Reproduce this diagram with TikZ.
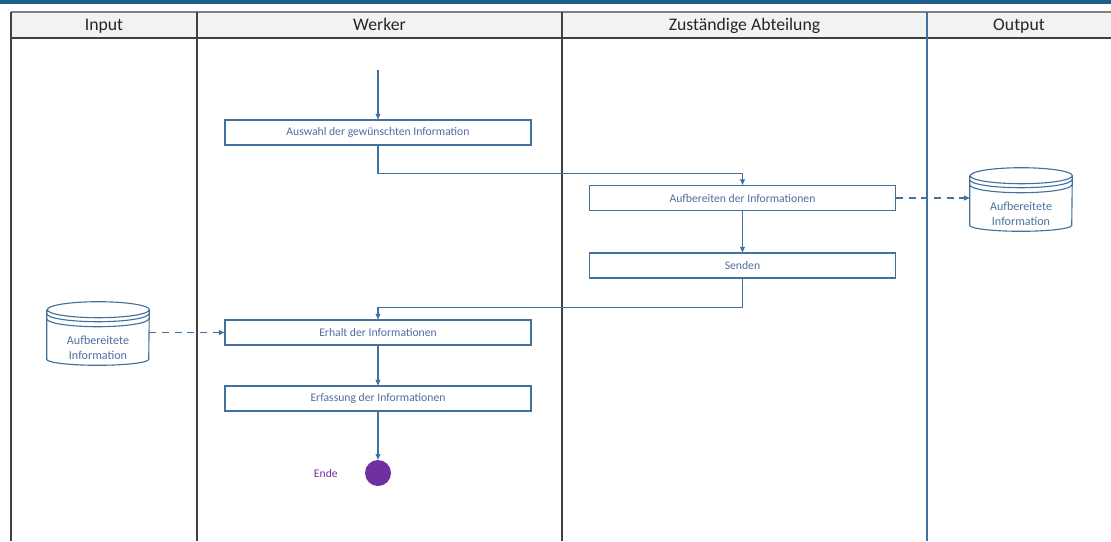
\documentclass[tikz,border=0pt]{standalone}
\usepackage{fontspec}
\setmainfont{Carlito}
\usepackage{xcolor}
\usetikzlibrary{arrows.meta, positioning, calc}

\definecolor{barblue}{RGB}{31,95,140}
\definecolor{lineblue}{RGB}{65,113,156}
\definecolor{textblue}{RGB}{78,110,160}
\definecolor{lanegray}{RGB}{64,64,64}
\definecolor{headfill}{RGB}{242,242,242}
\definecolor{endpurple}{RGB}{112,48,160}

% cylinder outline round a named store node
\newcommand{\storeoutline}[1]{%
  \draw[storeline] ($(#1.north west)+(0,0.425cm)$) -- ($(#1.south west)+(0,0.25cm)$)
    arc[start angle=180, end angle=360, x radius=1.275cm, y radius=0.15cm]
    -- ($(#1.north east)+(0,0.425cm)$)
    arc[start angle=0, end angle=360, x radius=1.275cm, y radius=0.2cm];
  \draw[storeline] ($(#1.north west)+(0,0.325cm)$)
    arc[start angle=180, end angle=360, x radius=1.275cm, y radius=0.2cm];
  \draw[storeline] ($(#1.north west)+(0,0.2cm)$)
    arc[start angle=180, end angle=360, x radius=1.275cm, y radius=0.2cm];
}

\begin{document}
\begin{tikzpicture}[
  x=0.025cm, y=-0.025cm,
  lane/.style={draw=lanegray, line width=1pt},
  lanehead/.style={anchor=base, font=\fontsize{12.6}{15}\selectfont, text=black!85},
  task/.style={rectangle, draw=lineblue, line width=0.8pt, fill=white,
    minimum width=7.65cm, minimum height=0.625cm, inner sep=0pt,
    font=\fontsize{8.3}{10}\selectfont, text=textblue},
  store/.style={rectangle, minimum width=2.55cm, minimum height=1.05cm,
    inner sep=0pt, align=center, font=\fontsize{8.6}{10.5}\selectfont, text=textblue},
  storeline/.style={draw=lineblue, line width=0.8pt},
  flow/.style={-{Triangle[length=4pt, width=3.5pt]}, draw=lineblue, line width=0.8pt},
  dataflow/.style={flow, dashed, dash pattern=on 5pt off 4pt},
  endnode/.style={circle, fill=endpurple, minimum size=0.65cm, inner sep=0pt},
]
\useasboundingbox (0,0) rectangle (1111,541);
% ====== FRAME AND LANES ======
\fill[barblue] (0,0) rectangle (1111,3.5);
\fill[headfill] (11,12) rectangle (1111,38);
\draw[draw=gray, line width=0.8pt] (11,12) -- (1111,12);
\draw[lane] (11,38) -- (1111,38);
\draw[lane] (11,12) -- (11,541);
\draw[lane] (197,12) -- (197,541);
\draw[lane] (562,12) -- (562,541);
\draw[draw=lineblue, line width=1pt] (927,12) -- (927,541);
\node[lanehead] (h_input) at (104,30.5) {Input};
\node[lanehead] (h_werker) at (379.5,30.5) {Werker};
\node[lanehead] (h_abt) at (744.5,30.5) {Zuständige Abteilung};
\node[lanehead] (h_output) at (1019,30.5) {Output};
%
% ====== TASKS ======
\coordinate (start) at (378,70);
\node[task] (t_auswahl) at (378,132.5) {Auswahl der gewünschten Information};
\node[task] (t_aufb) at (742.5,198) {Aufbereiten der Informationen};
\node[task] (t_senden) at (742.5,265.5) {Senden};
\node[task] (t_erhalt) at (378,332.5) {Erhalt der Informationen};
\node[task] (t_erfass) at (378,398.5) {Erfassung der Informationen};
\node[endnode] (t_ende) at (378,473) {};
\node[font=\fontsize{8.3}{10}\selectfont, text=endpurple, left=0.55cm of t_ende] (l_ende) {Ende};
%
% ====== DATA STORES ======
\node[store] (s_in) at (98,348) {Aufbereitete\\Information};
\storeoutline{s_in}
\node[store] (s_out) at (1021,214) {Aufbereitete\\Information};
\storeoutline{s_out}
%
% ====== FLOWS ======
\draw[flow] (start) -- (t_auswahl.north);
\draw[flow] (t_auswahl.south) -- ++(0,-0.7cm) -| (t_aufb.north);
\draw[flow] (t_aufb) -- (t_senden);
\draw[flow] (t_senden.south) -- ++(0,-0.725cm) -| (t_erhalt.north);
\draw[flow] (t_erhalt) -- (t_erfass);
\draw[flow] (t_erfass) -- (t_ende);
\draw[dataflow] (s_in.east |- t_erhalt.west) -- (t_erhalt.west);
\draw[dataflow] (t_aufb.east) -- (s_out.west |- t_aufb.east);
\end{tikzpicture}
\end{document}
